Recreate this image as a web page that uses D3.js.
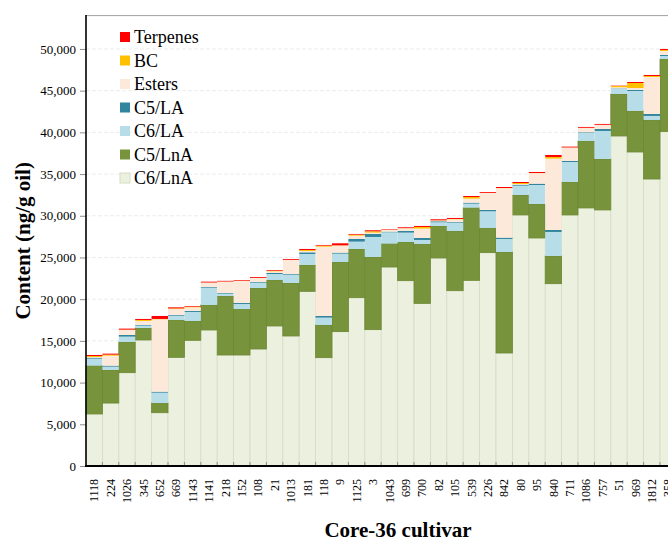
<!DOCTYPE html>
<html>
<head>
<meta charset="utf-8">
<script src="https://cdn.jsdelivr.net/npm/d3@7"></script>
<style>
  html, body { margin: 0; padding: 0; background: #fff; }
  svg { display: block; }
  text { font-family: "Liberation Serif", "Times New Roman", serif; fill: #000; }
</style>
</head>
<body>
<svg id="chart" width="668" height="541"></svg>
<script>
// Cultivars in plotting order
const cultivars = ["1118","224","1026","345","652","669","1143","1141","218","152","108","21",
  "1013","181","118","9","1125","3","1043","699","700","82","105","539","226","842","80","95",
  "840","711","1086","757","51","969","1812","358"];

// Volatile content per class (ng/g oil)
const c6LnA = [6240,7550,11190,15110,6390,13030,15070,16310,13310,13310,14030,16790,
  15590,20940,12990,16110,20180,16350,23860,22220,19500,24940,21020,22260,25580,13550,30100,27340,
  21860,30100,30940,30700,39570,37650,34410,40090];
const c5LnA = [5790,3960,3680,1440,1160,4480,2320,3000,7070,5510,7310,5510,
  6350,3160,3920,8350,5840,8710,2800,4640,7120,3840,7160,8710,2960,12110,2390,4070,
  3320,3950,8030,6110,5030,4920,7080,8710];
const c6LA = [840,400,640,280,1240,510,1080,2070,280,600,640,720,
  1000,1320,880,1000,880,2400,1360,1120,480,440,1000,480,2000,1560,1120,2280,
  2880,2400,960,3360,650,2390,480,360];
const c5LA = [120,120,200,80,120,90,120,80,80,120,80,120,
  80,200,200,120,320,360,80,200,240,120,80,120,160,160,120,160,
  240,120,80,240,40,120,240,120];
const esters = [80,1200,600,480,8680,710,440,520,1360,2640,480,200,
  1680,160,8310,840,400,160,200,320,1120,80,320,480,2030,5930,80,1260,
  8550,1600,520,480,120,240,4430,480];
const bc = [120,120,40,120,40,80,70,20,20,20,20,80,
  20,120,120,40,120,160,20,20,200,40,40,200,20,20,120,20,
  200,20,20,20,150,600,120,120];
const terpenes = [120,120,120,120,360,120,80,100,80,80,100,80,
  100,120,80,240,80,120,60,100,120,120,120,120,100,120,120,120,
  240,100,100,100,40,120,120,120];

const seriesKeys = ["C6/LnA","C5/LnA","C6/LA","C5/LA","Esters","BC","Terpenes"];
const seriesValues = [c6LnA, c5LnA, c6LA, c5LA, esters, bc, terpenes];
const seriesColors = ["#EBF1DE","#77933C","#B7DEE8","#31859C","#FDE9D9","#FFC000","#FF0000"];
const yTicks = [0,5000,10000,15000,20000,25000,30000,35000,40000,45000,50000];

const rows = cultivars.map((c, i) => {
  const r = { cultivar: c };
  seriesKeys.forEach((k, j) => { r[k] = seriesValues[j][i]; });
  return r;
});

const svg = d3.select("#chart");
const plotLeft = 86, plotTop = 15.6, plotBottom = 466;
const barStep = 16.4;

const x = d3.scaleBand()
  .domain(cultivars)
  .range([plotLeft, plotLeft + barStep * cultivars.length])
  .paddingInner(0).paddingOuter(0);

const y = d3.scaleLinear().domain([0, 54000]).range([plotBottom, plotTop]);

const color = d3.scaleOrdinal().domain(seriesKeys).range(seriesColors);

// faint horizontal gridlines
svg.append("g")
  .selectAll("line")
  .data(yTicks.slice(1))
  .join("line")
  .attr("x1", plotLeft).attr("x2", 668)
  .attr("y1", d => y(d)).attr("y2", d => y(d))
  .attr("stroke", "#ececec")
  .attr("stroke-dasharray", "4,2")
  .attr("stroke-width", 1);

// plot area top border
svg.append("line")
  .attr("x1", plotLeft).attr("x2", 668)
  .attr("y1", plotTop).attr("y2", plotTop)
  .attr("stroke", "#a0a0a0").attr("stroke-width", 1);

// stacked bars
const stacked = d3.stack().keys(seriesKeys)(rows);
const strokeFor = { "C6/LnA": "#D6DDC4", "C5/LnA": "#6D8834" };

svg.append("g")
  .selectAll("g")
  .data(stacked)
  .join("g")
  .attr("fill", d => color(d.key))
  .attr("stroke", d => strokeFor[d.key] || "none")
  .attr("stroke-width", d => strokeFor[d.key] ? 0.8 : 0)
  .selectAll("rect")
  .data(d => d)
  .join("rect")
  .attr("x", d => x(d.data.cultivar))
  .attr("width", x.bandwidth())
  .attr("y", d => y(d[1]))
  .attr("height", d => Math.max(0, y(d[0]) - y(d[1])));

// y axis
const yAxis = svg.append("g")
  .attr("transform", `translate(${plotLeft},0)`)
  .call(d3.axisLeft(y).tickValues(yTicks).tickFormat(d3.format(",")).tickSize(6).tickPadding(4));
yAxis.select(".domain").remove();
yAxis.selectAll(".tick line").attr("stroke", "#8c8c8c");
yAxis.selectAll(".tick text")
  .attr("font-size", 13)
  .attr("font-family", "Liberation Serif, serif");
svg.append("line")
  .attr("x1", plotLeft).attr("x2", plotLeft)
  .attr("y1", plotTop - 0.5).attr("y2", plotBottom + 1)
  .attr("stroke", "#000").attr("stroke-width", 1.6);

// x axis
const xAxis = svg.append("g")
  .attr("transform", `translate(0,${plotBottom})`)
  .call(d3.axisBottom(x).tickSize(0).tickPadding(0));
xAxis.select(".domain").remove();
xAxis.selectAll(".tick text")
  .attr("font-size", 12)
  .attr("font-family", "Liberation Serif, serif")
  .attr("text-anchor", "end")
  .attr("transform", "rotate(-90)")
  .attr("x", -13)
  .attr("y", 0)
  .attr("dy", "0.35em");

// small inward ticks at bar boundaries
svg.append("g")
  .selectAll("line")
  .data(cultivars.slice(1))
  .join("line")
  .attr("x1", d => x(d)).attr("x2", d => x(d))
  .attr("y1", plotBottom - 4).attr("y2", plotBottom)
  .attr("stroke", "#8c8c8c").attr("stroke-width", 1);

svg.append("line")
  .attr("x1", plotLeft - 1).attr("x2", 668)
  .attr("y1", plotBottom).attr("y2", plotBottom)
  .attr("stroke", "#000").attr("stroke-width", 2);

// axis titles
svg.append("text")
  .attr("transform", `translate(30,${(plotTop + plotBottom) / 2}) rotate(-90)`)
  .attr("text-anchor", "middle")
  .attr("font-size", 21)
  .attr("font-weight", "bold")
  .text("Content (ng/g oil)");

svg.append("text")
  .attr("x", 398).attr("y", 537)
  .attr("text-anchor", "middle")
  .attr("font-size", 21)
  .attr("font-weight", "bold")
  .text("Core-36 cultivar");

// legend (top-most series first)
const legendKeys = seriesKeys.slice().reverse();
const legend = svg.append("g").attr("transform", "translate(120,32)");
const item = legend.selectAll("g")
  .data(legendKeys)
  .join("g")
  .attr("transform", (d, i) => `translate(0,${i * 23.5})`);
item.append("rect")
  .attr("width", 10).attr("height", 10)
  .attr("fill", d => color(d))
  .attr("stroke", d => d === "C6/LnA" ? "#D6DDC4" : "none");
item.append("text")
  .attr("x", 14).attr("y", 5)
  .attr("dy", "0.35em")
  .attr("font-size", 18)
  .text(d => d);
</script>
</body>
</html>
